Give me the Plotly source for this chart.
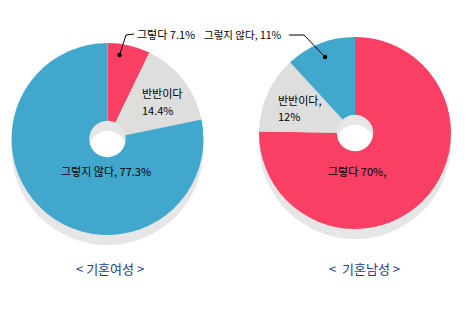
import plotly.graph_objects as go

W, H = 470, 309

# Data
categories = ["그렇다", "반반이다", "그렇지 않다"]
women_values = [7.1, 14.4, 77.3]
men_values = [70, 12, 11]
women_title = "< 기혼여성 >"
men_title = "<  기혼남성 >"
colors = ["#F93F63", "#DEDEDC", "#41A7CD"]
shadow_color = "#E6E6E6"

FONT = "Noto Sans CJK KR"

def px(x):
    return x / W

def py(y):
    return 1 - y / H

def domain(cx, cy, r):
    return dict(x=[px(cx - r), px(cx + r)], y=[py(cy + r), py(cy - r)])

R = 96
HOLE = 0.19
centers = [(107.5, 139), (355, 133)]
shadow_dy = 10

fig = go.Figure()
for (cx, cy) in centers:
    fig.add_trace(go.Pie(
        values=[1], labels=["shadow"], marker=dict(colors=[shadow_color], line=dict(width=0)),
        hole=HOLE, textinfo="none", hoverinfo="skip", sort=False,
        domain=domain(cx, cy + shadow_dy, R), showlegend=False))

for (cx, cy), vals in zip(centers, [women_values, men_values]):
    fig.add_trace(go.Pie(
        values=vals, labels=categories, marker=dict(colors=colors, line=dict(width=0)),
        hole=HOLE, textinfo="none", sort=False, direction="clockwise", rotation=0,
        domain=domain(cx, cy, R), showlegend=False))

def label(x, y, text, anchor="left", size=11, color="black"):
    fig.add_annotation(x=px(x), y=py(y), xref="paper", yref="paper", text=text,
                       showarrow=False, xanchor=anchor, yanchor="middle",
                       font=dict(family=FONT, size=size, color=color))

# Women labels
label(135, 34, f"{categories[0]} {women_values[0]}%")
label(140, 93, categories[1])
label(140, 110, f"{women_values[1]}%")
label(106, 171, f"{categories[2]}, {women_values[2]}%", anchor="center")
# Men labels
label(284, 35, f"{categories[2]}, {men_values[2]}%", anchor="right", size=10.5)
label(276, 100, f"{categories[1]},")
label(276, 116, f"{men_values[1]}%")
label(357, 171, f"{categories[0]} {men_values[0]}%,", anchor="center")

# Titles
label(110, 268, women_title, anchor="center", size=13, color="#1B3C8C")
label(364, 268, men_title, anchor="center", size=13, color="#1B3C8C")

# Leader lines
def line(x0, y0, x1, y1):
    fig.add_shape(type="line", xref="paper", yref="paper", x0=px(x0), y0=py(y0),
                  x1=px(x1), y1=py(y1), line=dict(color="black", width=1))

def dot(x, y, r=2.2):
    fig.add_shape(type="circle", xref="paper", yref="paper", x0=px(x - r), x1=px(x + r),
                  y0=py(y + r), y1=py(y - r), fillcolor="black", line=dict(width=0))

line(119.5, 55, 126, 35)
line(126, 35, 134, 34)
dot(119.5, 55)
line(289, 35, 304, 35)
line(304, 35, 325, 57)
dot(325, 57)

fig.update_layout(width=W, height=H, margin=dict(l=0, r=0, t=0, b=0),
                  paper_bgcolor="white", plot_bgcolor="white", showlegend=False)

fig.write_html("out.html")
